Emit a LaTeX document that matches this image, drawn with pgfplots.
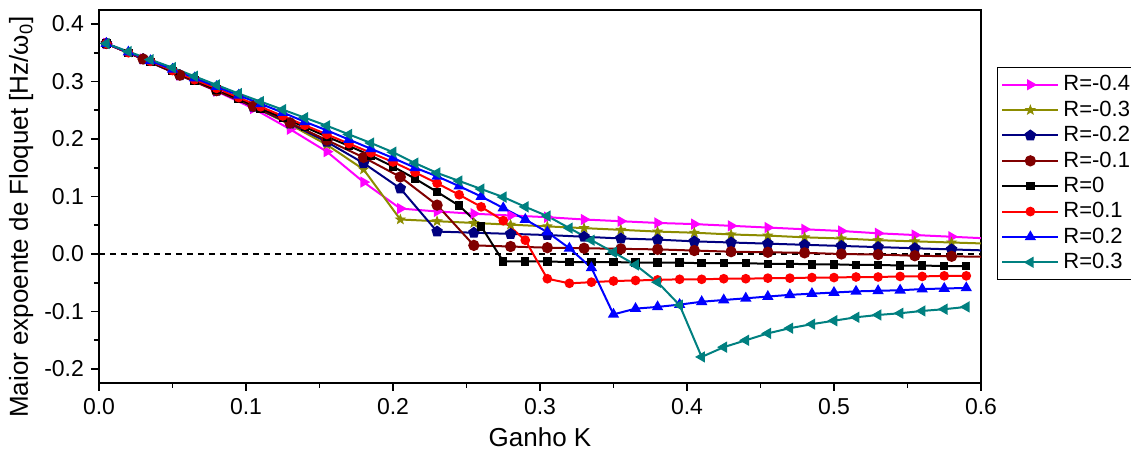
\documentclass[border=0pt]{standalone}
\usepackage{fontspec}
\setmainfont{Liberation Sans}
\usepackage{pgfplots}
\usepackage{pgfplotstable}
\pgfplotsset{compat=1.18}
\usetikzlibrary{plotmarks}

\definecolor{cMag}{RGB}{255,0,255}
\definecolor{cOli}{RGB}{140,140,0}
\definecolor{cNav}{RGB}{0,0,128}
\definecolor{cBrn}{RGB}{128,0,0}
\definecolor{cRed}{RGB}{255,0,0}
\definecolor{cBlu}{RGB}{0,0,255}
\definecolor{cTea}{RGB}{0,128,128}

\pgfdeclareplotmark{fstar}{%
  \pgfpathmoveto{\pgfpointpolar{90}{1.2\pgfplotmarksize}}%
  \pgfpathlineto{\pgfpointpolar{126}{0.5\pgfplotmarksize}}%
  \pgfpathlineto{\pgfpointpolar{162}{1.2\pgfplotmarksize}}%
  \pgfpathlineto{\pgfpointpolar{198}{0.5\pgfplotmarksize}}%
  \pgfpathlineto{\pgfpointpolar{234}{1.2\pgfplotmarksize}}%
  \pgfpathlineto{\pgfpointpolar{270}{0.5\pgfplotmarksize}}%
  \pgfpathlineto{\pgfpointpolar{306}{1.2\pgfplotmarksize}}%
  \pgfpathlineto{\pgfpointpolar{342}{0.5\pgfplotmarksize}}%
  \pgfpathlineto{\pgfpointpolar{18}{1.2\pgfplotmarksize}}%
  \pgfpathlineto{\pgfpointpolar{54}{0.5\pgfplotmarksize}}%
  \pgfpathclose
  \pgfusepathqfillstroke}

\pgfplotstableread{
K      m04    m03    m02    m01
0.005  0.366  0.366  0.366  0.366
0.030  0.339  0.339  0.339  0.339
0.055  0.311  0.311  0.311  0.311
0.080  0.283  0.284  0.284  0.284
0.105  0.253  0.256  0.256  0.257
0.130  0.217  0.225  0.227  0.228
0.155  0.178  0.190  0.195  0.198
0.180  0.125  0.147  0.158  0.168
0.205  0.079  0.060  0.114  0.134
0.230  0.074  0.057  0.039  0.085
0.255  0.070  0.054  0.037  0.015
0.280  0.067  0.051  0.035  0.013
0.305  0.064  0.048  0.033  0.011
0.330  0.060  0.045  0.030  0.010
0.355  0.057  0.042  0.027  0.009
0.380  0.054  0.039  0.025  0.008
0.405  0.052  0.037  0.022  0.006
0.430  0.049  0.034  0.020  0.004
0.455  0.046  0.032  0.018  0.003
0.480  0.043  0.029  0.016  0.002
0.505  0.040  0.027  0.014  0.000
0.530  0.036  0.024  0.012  -0.001
0.555  0.033  0.022  0.010  -0.003
0.580  0.030  0.020  0.008  -0.004
0.605  0.027  0.018  0.006  -0.005
}\negtab

\pgfplotstableread{
K      p0     p01    p02    p03
0.005  0.366  0.366  0.366  0.366
0.020  0.350  0.350  0.351  0.352
0.035  0.334  0.335  0.336  0.338
0.050  0.318  0.319  0.321  0.324
0.065  0.302  0.303  0.306  0.309
0.080  0.286  0.288  0.291  0.294
0.095  0.270  0.272  0.276  0.279
0.110  0.253  0.256  0.261  0.265
0.125  0.237  0.240  0.246  0.251
0.140  0.221  0.224  0.230  0.237
0.155  0.204  0.208  0.215  0.223
0.170  0.188  0.192  0.199  0.208
0.185  0.171  0.176  0.183  0.193
0.200  0.152  0.160  0.167  0.177
0.215  0.131  0.142  0.150  0.158
0.230  0.108  0.123  0.135  0.141
0.245  0.084  0.103  0.118  0.127
0.260  0.048  0.082  0.100  0.113
0.275  -0.013 0.058  0.080  0.099
0.290  -0.013 0.024  0.060  0.082
0.305  -0.013 -0.043 0.038  0.066
0.320  -0.014 -0.051 0.010  0.045
0.335  -0.014 -0.049 -0.024 0.024
0.350  -0.014 -0.047 -0.105 0.003
0.365  -0.015 -0.046 -0.095 -0.019
0.380  -0.015 -0.045 -0.092 -0.049
0.395  -0.015 -0.044 -0.088 -0.089
0.410  -0.016 -0.044 -0.083 -0.179
0.425  -0.016 -0.043 -0.080 -0.162
0.440  -0.016 -0.043 -0.077 -0.150
0.455  -0.017 -0.042 -0.074 -0.138
0.470  -0.017 -0.042 -0.071 -0.129
0.485  -0.018 -0.041 -0.069 -0.122
0.500  -0.018 -0.041 -0.067 -0.116
0.515  -0.019 -0.040 -0.065 -0.110
0.530  -0.019 -0.040 -0.064 -0.106
0.545  -0.020 -0.039 -0.063 -0.103
0.560  -0.020 -0.039 -0.061 -0.099
0.575  -0.021 -0.038 -0.060 -0.096
0.590  -0.021 -0.038 -0.059 -0.092
}\postab

\begin{document}
\begin{tikzpicture}
\path[use as bounding box] (-49.5pt,-38pt) rectangle (516pt,191.5pt);
\begin{axis}[
  at={(0,0)}, anchor=south west,
  scale only axis, width=441pt, height=186.5pt,
  xmin=0, xmax=0.6, ymin=-0.2243, ymax=0.4243,
  xtick={0,0.1,...,0.6}, ytick={-0.2,-0.1,...,0.4},
  minor x tick num=1, minor y tick num=1,
  xtick pos=bottom, ytick pos=left, tick align=outside,
  major tick length=4pt, minor tick length=2.5pt,
  every tick/.style={black, line width=0.8pt},
  axis line style={line width=1pt},
  /pgf/number format/assume math mode=true,
  /pgf/number format/.cd, fixed, fixed zerofill, precision=1, /pgfplots/.cd,
  tick label style={font=\fontsize{11.5}{13}\selectfont},
  xlabel={Ganho K}, ylabel={Maior expoente de Floquet [Hz/ω\textsubscript{0}]},
  xlabel style={font=\fontsize{13}{15}\selectfont, at={(axis description cs:0.5,-0.169)}, anchor=base},
  ylabel style={font=\fontsize{13}{15}\selectfont, at={(axis description cs:-0.074,0.445)}, anchor=south, inner sep=0pt},
  legend style={at={(1.018,0.847)}, anchor=north west, draw=black, line width=0.5pt,
    font=\fontsize{11}{13}\selectfont, row sep=-0.5pt, inner sep=2pt},
  legend cell align=left,
  legend image code/.code={\draw[mark repeat=2,mark phase=2] plot coordinates {(0pt,0pt) (14pt,0pt) (28pt,0pt)};},
  every axis plot/.append style={line width=1pt},
]
\addplot[black, line width=0.6pt, dash pattern=on 3pt off 2.5pt, forget plot] coordinates {(0,0) (0.6,0)};
\addplot[cMag, mark=triangle*, mark size=2.3pt, mark options={solid, rotate=-90, fill=cMag}] table[x=K, y=m04] {\negtab};
\addlegendentry{R=-0.4}
\addplot[cOli, mark=fstar, mark size=2.0pt, mark options={solid, fill=cOli, line width=0.4pt}] table[x=K, y=m03] {\negtab};
\addlegendentry{R=-0.3}
\addplot[cNav, mark=pentagon*, mark size=2.4pt, mark options={solid, fill=cNav}] table[x=K, y=m02] {\negtab};
\addlegendentry{R=-0.2}
\addplot[cBrn, mark=*, mark size=2.3pt, mark options={solid, fill=cBrn}] table[x=K, y=m01] {\negtab};
\addlegendentry{R=-0.1}
\addplot[black, mark=square*, mark size=1.6pt, mark options={solid, fill=black}] table[x=K, y=p0] {\postab};
\addlegendentry{R=0}
\addplot[cRed, mark=*, mark size=1.9pt, mark options={solid, fill=cRed}] table[x=K, y=p01] {\postab};
\addlegendentry{R=0.1}
\addplot[cBlu, mark=triangle*, mark size=2.3pt, mark options={solid, fill=cBlu}] table[x=K, y=p02] {\postab};
\addlegendentry{R=0.2}
\addplot[cTea, mark=triangle*, mark size=2.3pt, mark options={solid, rotate=90, fill=cTea}] table[x=K, y=p03] {\postab};
\addlegendentry{R=0.3}
\end{axis}
\end{tikzpicture}
\end{document}
